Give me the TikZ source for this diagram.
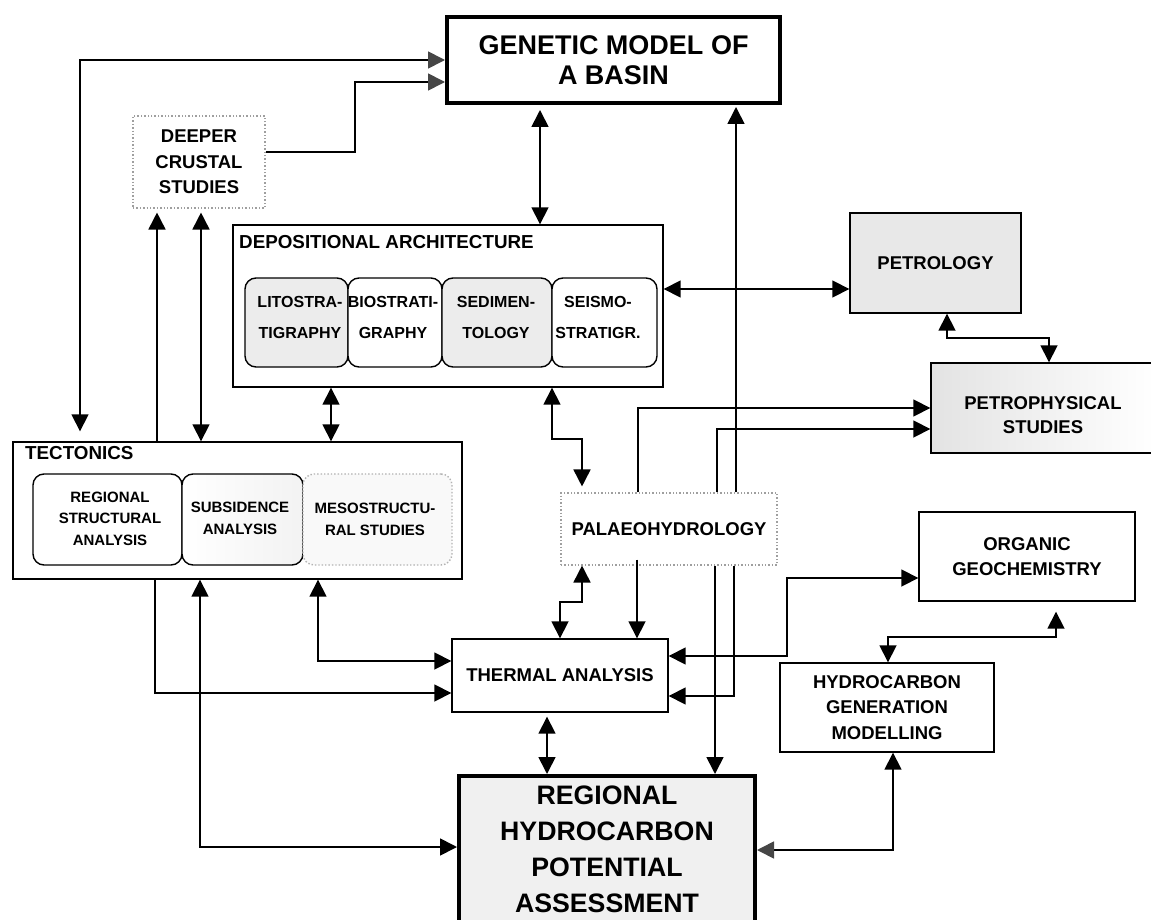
\documentclass[tikz,border=0pt]{standalone}
\usepackage{fontspec}
\setmainfont{Liberation Sans}
\usetikzlibrary{arrows.meta,calc}
\tikzset{
  tipB/.tip={Triangle[length=17pt,width=17pt]},
  tipG/.tip={Triangle[length=17pt,width=17pt,color=gray!55!black]},
}
\begin{document}
\begin{tikzpicture}[x=1pt,y=-1pt,
  >={Triangle[length=17pt,width=17pt]},
  conn/.style={line width=1.7pt,draw=black},
  box/.style={draw=black,line width=1.4pt,fill=white,inner sep=0pt,align=center,
    font=\fontsize{18.5}{25.5}\selectfont\bfseries},
  thickbox/.style={box,line width=4pt},
  dotbox/.style={box,draw=gray!75,dotted,line width=1.1pt},
  subbox/.style={draw=black,line width=1.4pt,fill=white,rounded corners=11pt,inner sep=0pt},
  dsub/.style={subbox,minimum height=89pt},
  tsub/.style={subbox,minimum height=91pt},
  dtxt/.style={align=center,inner sep=0pt,font=\fontsize{16}{31}\selectfont\bfseries},
  ttxt/.style={align=center,inner sep=0pt,font=\fontsize{15}{21.5}\selectfont\bfseries},
  btxt/.style={align=center,inner sep=0pt,font=\fontsize{18.5}{24}\selectfont\bfseries},
  ttl/.style={inner sep=0pt,anchor=base west,font=\fontsize{18.8}{22}\selectfont\bfseries},
  bigtxt/.style={align=center,inner sep=0pt,font=\fontsize{26.7}{36}\selectfont\bfseries},
]
\useasboundingbox (0,0) rectangle (1151,920);
\clip (0,0) rectangle (1151,920);

% ---------- boxes ----------
\node[thickbox,minimum width=333pt,minimum height=86pt,
  font=\fontsize{27}{29.5}\selectfont\bfseries] (gen) at (613.5,60) {GENETIC MODEL OF\\A BASIN};

\node[dotbox,minimum width=132pt,minimum height=92pt] (deep) at (199,162) {DEEPER\\CRUSTAL\\STUDIES};

% depositional architecture
\node[box,minimum width=430pt,minimum height=162pt] (da) at (448,306) {};
\node[ttl] (datitle) at (239,248) {DEPOSITIONAL ARCHITECTURE};
\node[dsub,fill=gray!15,minimum width=103pt] (lito) at (296.5,322.5) {};
\node[dsub,minimum width=94pt] (bio) at (395,322.5) {};
\node[dsub,fill=gray!15,minimum width=110pt] (sed) at (497,322.5) {};
\node[dsub,minimum width=105pt] (seis) at (604.5,322.5) {};
\node[dtxt] (litot) at (300,317.5) {LITOSTRA-\\TIGRAPHY};
\node[dtxt] (biot) at (393,317.5) {BIOSTRATI-\\GRAPHY};
\node[dtxt] (sedt) at (496,317.5) {SEDIMEN-\\TOLOGY};
\node[dtxt] (seist) at (598,317.5) {SEISMO-\\STRATIGR.};

% petrology / petrophysics
\node[box,fill=gray!18,minimum width=171pt,minimum height=100pt] (petrol) at (935.5,263) {PETROLOGY};
\node[box,left color=gray!22,right color=white,minimum width=224pt,minimum height=90pt] (petrophys) at (1043,408) {};
\node[btxt] (petrophyst) at (1043,415) {PETROPHYSICAL\\STUDIES};

% tectonics
\node[box,minimum width=449pt,minimum height=137pt] (tect) at (237.5,510.5) {};
\node[ttl] (tecttitle) at (25,459) {TECTONICS};
\node[tsub,minimum width=149pt] (reg) at (107.5,519.5) {};
\node[tsub,left color=white,right color=gray!10,minimum width=121pt] (subs) at (242.5,519.5) {};
\node[tsub,fill=gray!5,draw=gray!60,dotted,minimum width=149pt] (meso) at (377.5,519.5) {};
\node[ttxt] (regt) at (110,518.5) {REGIONAL\\STRUCTURAL\\ANALYSIS};
\node[ttxt] (subst) at (240,518.5) {SUBSIDENCE\\ANALYSIS};
\node[ttxt] (mesot) at (375,519.5) {MESOSTRUCTU-\\RAL STUDIES};

% others
\node[dotbox,minimum width=216pt,minimum height=72pt] (palaeo) at (669,529) {PALAEOHYDROLOGY};
\node[box,minimum width=216pt,minimum height=89pt] (org) at (1027,556.5) {ORGANIC\\GEOCHEMISTRY};
\node[box,minimum width=216pt,minimum height=73pt] (therm) at (560,675.5) {THERMAL ANALYSIS};
\node[box,minimum width=214pt,minimum height=89pt] (hcg) at (887,707.5) {HYDROCARBON\\GENERATION\\MODELLING};
\node[thickbox,fill=gray!12,minimum width=296pt,minimum height=152pt] (rhpa) at (607,852) {};
\node[bigtxt] (rhpat) at (607,849) {REGIONAL\\HYDROCARBON\\POTENTIAL\\ASSESSMENT};

% ---------- connectors ----------
\draw[conn,{tipB}-{tipG},shorten <=10pt] (tect.north -| 80,0) |- (gen.west |- 0,60);
\draw[conn,-{tipG}] (deep.east |- 0,152) -| (355,82) -- (gen.west |- 0,82);
\draw[conn,->,shorten >=4pt] (tect.north -| 157,0) -- (deep.south -| 157,0);
\draw[conn,<->,shorten >=4pt] (tect.north -| 201,0) -- (deep.south -| 201,0);
\draw[conn,<->,shorten <=5pt] (gen.south -| 540,0) -- (da.north -| 540,0);
\draw[conn,<->] (da.south -| 331,0) -- (tect.north -| 331,0);
\draw[conn,<->] (da.east |- 0,289) -- (petrol.west |- 0,289);
\draw[conn,<->] (petrol.south -| 947,0) |- (1049,338) -- (petrophys.north -| 1049,0);
\draw[conn,<->,shorten >=6pt] (da.south -| 552,0) -- (552,439) -| (palaeo.north -| 582,0);
\draw[conn,->] (palaeo.north -| 638,0) |- (petrophys.west |- 0,408);
\draw[conn,->] (palaeo.north -| 717,0) |- (petrophys.west |- 0,429);
\draw[conn,->,shorten >=2pt] (palaeo.north -| 736,0) -- (gen.south -| 736,0);
\draw[conn,->,shorten <=-6pt] (palaeo.south -| 637,0) -- (therm.north -| 637,0);
\draw[conn,<->] (palaeo.south -| 582,0) -- (582,602) -| (therm.north -| 560,0);
\draw[conn,->] (palaeo.south -| 715,0) -- (rhpa.north -| 715,0);
\draw[conn,->] (palaeo.south -| 734,0) |- (therm.east |- 0,696);
\draw[conn,->] (tect.south -| 155,0) |- (therm.west |- 0,693);
\draw[conn,<->] (tect.south -| 200,0) |- (rhpa.west |- 0,847);
\draw[conn,<->] (tect.south -| 318,0) |- (therm.west |- 0,661);
\draw[conn,<->] (therm.east |- 0,656) -| (787,578) -- (org.west |- 0,578);
\draw[conn,<->,shorten <=10pt] (org.south -| 1056,0) -- (1056,637) -| (hcg.north -| 888,0);
\draw[conn,{tipG}-{tipB}] (rhpa.east |- 0,850) -| (hcg.south -| 893,0);
\draw[conn,<->,shorten <=4pt] (therm.south -| 547,0) -- (rhpa.north -| 547,0);
\end{tikzpicture}
\end{document}
